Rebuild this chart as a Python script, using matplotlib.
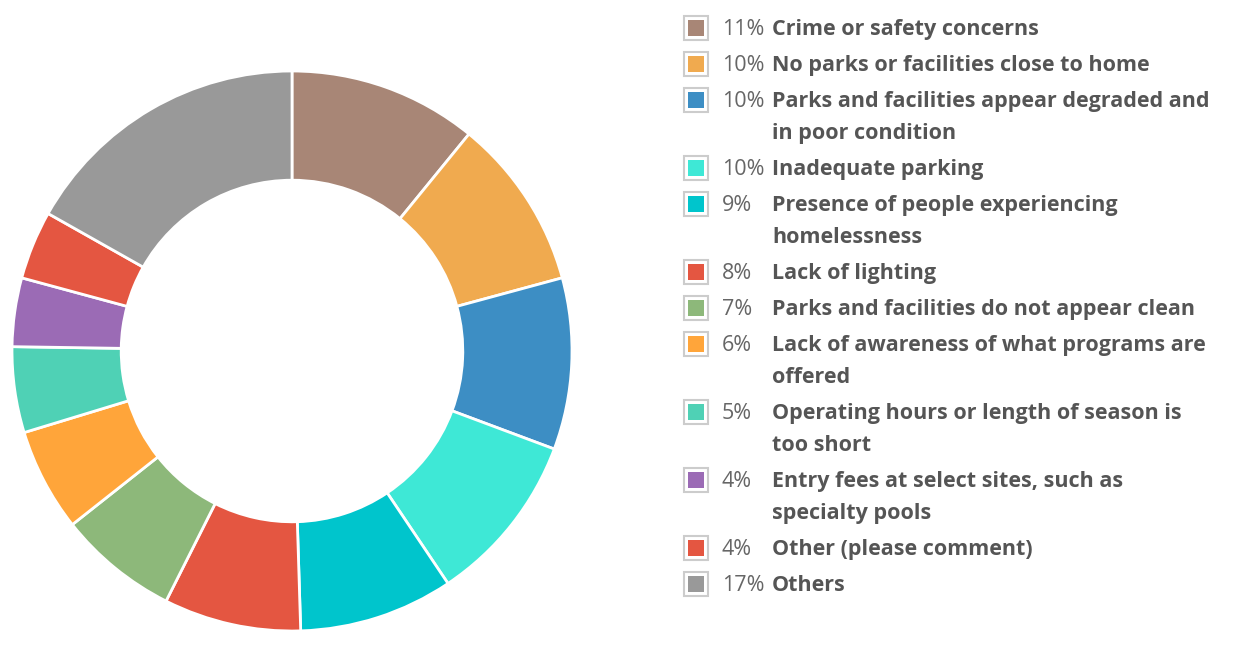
import matplotlib.pyplot as plt
from matplotlib.patches import Rectangle

# Chart data
labels = ['Crime or safety concerns',
          'No parks or facilities close to home',
          'Parks and facilities appear degraded and\nin poor condition',
          'Inadequate parking',
          'Presence of people experiencing\nhomelessness',
          'Lack of lighting',
          'Parks and facilities do not appear clean',
          'Lack of awareness of what programs are\noffered',
          'Operating hours or length of season is\ntoo short',
          'Entry fees at select sites, such as\nspecialty pools',
          'Other (please comment)',
          'Others']
percents = [11, 10, 10, 10, 9, 8, 7, 6, 5, 4, 4, 17]
colors = ['#A88676', '#F0AA4F', '#3D8EC4', '#3EE8D6', '#00C5CC', '#E45641',
          '#8DB87A', '#FFA53A', '#4FD1B5', '#9B6BB5', '#E45641', '#999999']

W, H = 1237, 652
fig = plt.figure(figsize=(W / 100, H / 100), dpi=100)
plt.rcParams['font.family'] = ['Open Sans', 'DejaVu Sans']

# Donut
ax = fig.add_axes([12 / W, (H - 631) / H, 560 / W, 560 / H])
ax.pie(percents, colors=colors, startangle=90, counterclock=False,
       radius=1, wedgeprops=dict(width=0.39, edgecolor='white', linewidth=2))
ax.set_xlim(-1, 1)
ax.set_ylim(-1, 1)
ax.set_aspect('equal')
ax.axis('off')

# Legend drawn in pixel coordinates
lax = fig.add_axes([0, 0, 1, 1])
lax.set_xlim(0, W)
lax.set_ylim(H, 0)
lax.axis('off')

y = 28
for lab, p, c in zip(labels, percents, colors):
    lax.add_patch(Rectangle((684, y - 12), 24, 24, facecolor='white',
                            edgecolor='#cccccc', linewidth=1.5))
    lax.add_patch(Rectangle((688, y - 8), 16, 16, facecolor=c, edgecolor='none'))
    lax.text(722, y + 7, f'{p}%', fontsize=15.5, color='#666666', va='baseline')
    lines = lab.split('\n')
    for i, line in enumerate(lines):
        lax.text(772, y + 7 + 32 * i, line, fontsize=15.5, color='#555555',
                 fontweight='bold', va='baseline')
    y += 36 + 32 * (len(lines) - 1)

fig.savefig('out.png', dpi=100)
